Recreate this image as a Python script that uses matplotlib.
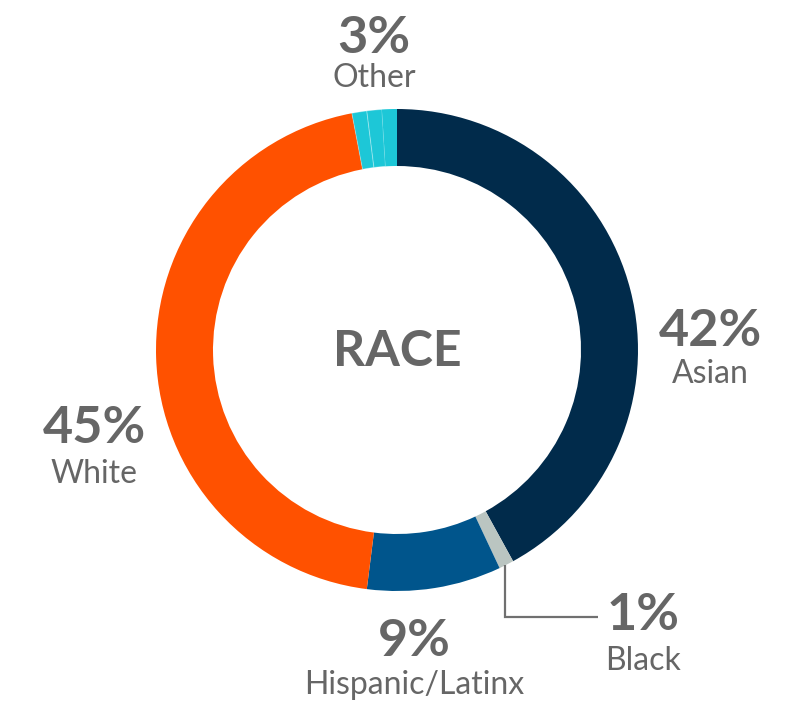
import matplotlib
matplotlib.use("Agg")
import matplotlib.pyplot as plt

# Data
categories = ["Asian", "Black", "Hispanic/Latinx", "White", "Other", "Other", "Other"]
values = [42, 1, 9, 45, 1, 1, 1]
colors = ["#012b4b", "#bac5c1", "#00558c", "#ff5100", "#1dc7d7", "#1dc7d7", "#1dc7d7"]
label_pcts = ["42%", "1%", "9%", "45%", "3%"]
label_names = ["Asian", "Black", "Hispanic/Latinx", "White", "Other"]

W, H = 795, 703
fig = plt.figure(figsize=(W / 100, H / 100), dpi=100)
ax = fig.add_axes([0, 0, 1, 1])

cx, cy = 397, H - 350
R = 241
ring = 57

wedges, _ = ax.pie(values, colors=colors, startangle=90, counterclock=False,
                   center=(cx, cy), radius=R, frame=True,
                   wedgeprops=dict(width=ring, linewidth=0))
# faint separators within "Other"
for w in wedges[4:6]:
    w.set_edgecolor((1, 1, 1, 0.3))
    w.set_linewidth(0.7)
ax.set_xlim(0, W)
ax.set_ylim(0, H)
ax.set_aspect("equal")
ax.axis("off")

tc = "#666666"
fam = ["Lato", "DejaVu Sans"]
num_fs = 37.5
lab_fs = 23

ax.text(cx, H - 366, "RACE", ha="center", va="baseline", fontsize=36,
        fontweight="bold", color=tc, family=fam)

# (x_center, pct baseline, name baseline) in image coords
pos = [(710, 346, 383), (643, 630, 670), (414, 656, 694), (94, 443, 483), (374, 53, 87)]
for (x, yb1, yb2), p, n in zip(pos, label_pcts, label_names):
    ax.text(x, H - yb1, p, ha="center", va="baseline", fontsize=num_fs,
            fontweight="bold", color=tc, family=fam)
    ax.text(x, H - yb2, n, ha="center", va="baseline", fontsize=lab_fs,
            color=tc, family=fam)

# leader line for Black
ax.plot([505, 505, 598], [H - 565, H - 617, H - 617], color="#707070", lw=1.6,
        solid_capstyle="butt", solid_joinstyle="miter")

fig.savefig("out.png", dpi=100, facecolor="white")
